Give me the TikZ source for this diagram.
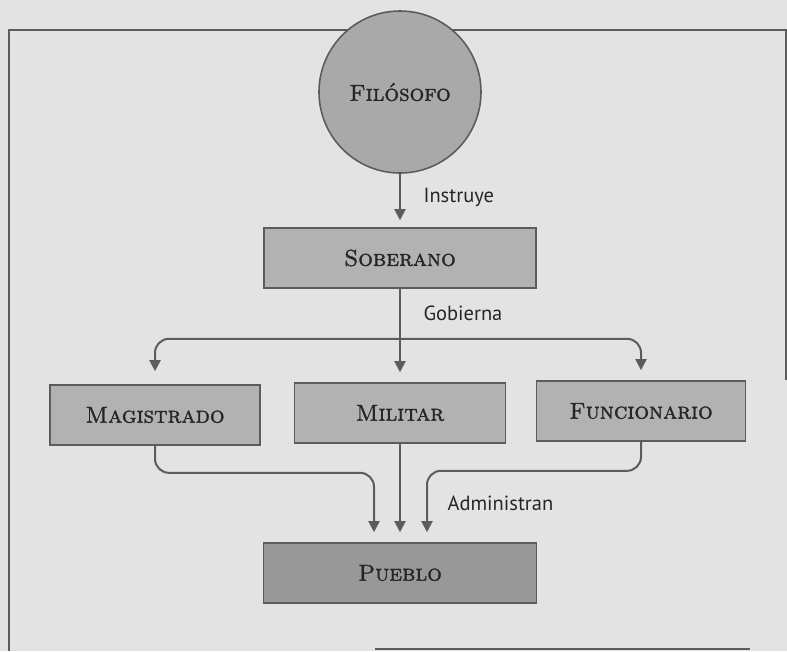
\documentclass[tikz,border=0pt]{standalone}
\usepackage{fontspec}
\newfontfamily\etiqfont{PT Sans}
\newfontfamily\cajafont{lmromancaps10-regular}[Extension=.otf,FakeBold=1.4]
\usetikzlibrary{arrows.meta,positioning}
\definecolor{fondo}{RGB}{227,227,227}
\definecolor{gris}{RGB}{178,178,178}
\definecolor{grisosc}{RGB}{152,152,152}
\definecolor{borde}{RGB}{92,92,92}
\definecolor{tinta}{RGB}{38,38,38}

\begin{document}
\begin{tikzpicture}[x=1pt,y=-1pt,
	caja/.style={draw=borde,line width=1.6pt,fill=gris,minimum height=60pt,inner sep=0pt,text=tinta,font=\cajafont\fontsize{23}{25}\selectfont},
	flecha/.style={draw=borde,line width=2pt,-{Triangle[width=11pt,length=11pt]},rounded corners=14pt,shorten >=10pt},
	etiqueta/.style={text=tinta,font=\etiqfont\fontsize{20.5}{22}\selectfont,anchor=west}]
\useasboundingbox (0,0) rectangle (787,651);
\fill[fondo] (0,0) rectangle (787,651);
\draw[borde,line width=1.5pt] (786,380) -- (786,30) -- (9,30) -- (9,651);
\draw[borde,line width=1.5pt] (375,649) -- (750,649);

\node (filosofo) at (400,92) [circle,draw=borde,line width=1.6pt,fill=gris!95!black,minimum size=162pt,inner sep=0pt,text=tinta,font=\cajafont\fontsize{23}{25}\selectfont] {Filósofo};
\node (soberano) at (400,258) [caja,minimum width=272pt] {Soberano};
\node (magistrado) at (155,415) [caja,minimum width=210pt] {Magistrado};
\node (militar) at (400,413) [caja,minimum width=211pt] {Militar};
\node (funcionario) at (641,411) [caja,minimum width=209pt] {Funcionario};
\node (pueblo) at (400,573) [caja,fill=grisosc,minimum width=273pt] {Pueblo};

\node (instruye) at (420,197) [etiqueta] {Instruye};
\node (gobierna) at (420,313) [etiqueta] {Gobierna};
\node (administran) at (444,503) [etiqueta] {Administran};

\draw[flecha,shorten >=7pt] (filosofo) -- (soberano);
\path (soberano.south) ++(0,50) coordinate (bus);
\draw[flecha] (soberano) -- (militar);
\draw[flecha,shorten >=13pt] (bus) -| (magistrado.north);
\draw[flecha] (bus) -| (funcionario.north);

\path (magistrado.south) ++(0,27) coordinate (codoizq);
\path (funcionario.south) ++(0,29) coordinate (cododer);
\draw[flecha] (magistrado.south) -- (codoizq) -| ([xshift=-26pt]pueblo.north);
\draw[flecha] (militar) -- (pueblo);
\draw[flecha] (funcionario.south) -- (cododer) -| ([xshift=27pt]pueblo.north);
\end{tikzpicture}
\end{document}
